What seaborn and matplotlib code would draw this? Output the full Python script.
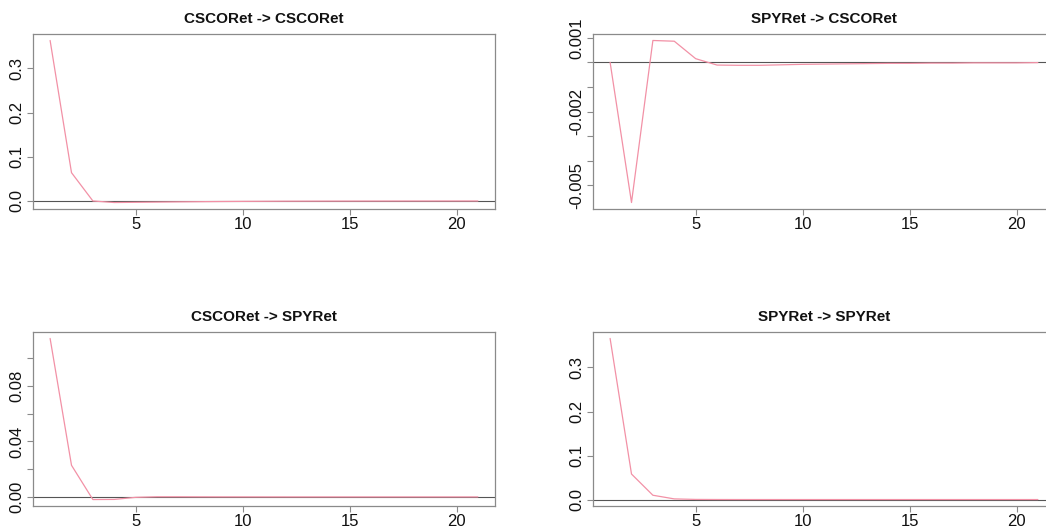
import numpy as np
import pandas as pd
import matplotlib
matplotlib.use("Agg")
import matplotlib.pyplot as plt
import seaborn as sns

# ---- data ----
horizon = list(range(1, 22))

titles = ["CSCORet -> CSCORet", "SPYRet -> CSCORet",
          "CSCORet -> SPYRet", "SPYRet -> SPYRet"]

csco_csco = [0.363, 0.064, 0.0, -0.0035, -0.003, -0.0025, -0.002, -0.0016,
             -0.0012, -0.0009, -0.0007, -0.0005, -0.0004, -0.0003, -0.00025,
             -0.0002, -0.00015, -0.0001, -0.00008, -0.00006, -0.00005]
spy_csco = [0.0, -0.0057, 0.00089, 0.00086, 0.00015, -0.00011, -0.00012,
            -0.00012, -0.00010, -0.00008, -0.00007, -0.00006, -0.00005,
            -0.00004, -0.00004, -0.00003, -0.00003, -0.00002, -0.00002,
            -0.00002, -0.00001]
csco_spy = [0.1142, 0.0228, -0.0019, -0.0018, -0.0003, 0.0001, 0.0001,
            0.00005, 0.00003, 0.00002, 0.00001, 0.0, 0.0, 0.0, 0.0, 0.0,
            0.0, 0.0, 0.0, 0.0, 0.0]
spy_spy = [0.366, 0.058, 0.0098, 0.0015, 0.0003, 0.0001, 0.00003, 0.00001,
           0.0, 0.0, 0.0, 0.0, 0.0, 0.0, 0.0, 0.0, 0.0, 0.0, 0.0, 0.0, 0.0]

series = [csco_csco, spy_csco, csco_spy, spy_spy]

x_ticks = [5, 10, 15, 20]
y_ticks = [
    [0.0, 0.1, 0.2, 0.3],
    [0.001, 0.0, -0.001, -0.002, -0.003, -0.004, -0.005],
    [0.00, 0.02, 0.04, 0.06, 0.08, 0.10],
    [0.0, 0.1, 0.2, 0.3],
]
y_labels = [
    ["0.0", "0.1", "0.2", "0.3"],
    ["0.001", "", "", "-0.002", "", "", "-0.005"],
    ["0.00", "", "0.04", "", "0.08", ""],
    ["0.0", "0.1", "0.2", "0.3"],
]

# ---- style ----
sns.set_style("white")
plt.rcParams["font.family"] = ["Liberation Sans", "DejaVu Sans"]

W, H = 1046, 529
fig = plt.figure(figsize=(W / 100, H / 100), dpi=100)

# panel boxes in pixels: (left, top, right, bottom)
boxes = [
    (33, 34, 495, 209),
    (593, 34, 1055, 209),
    (33, 332, 495, 506),
    (593, 332, 1055, 506),
]

line_color = "#F291A6"
box_color = "#8a8a8a"

for i, (l, t, r, b) in enumerate(boxes):
    ax = fig.add_axes([l / W, 1 - b / H, (r - l) / W, (b - t) / H])
    df = pd.DataFrame({"h": horizon, "v": series[i]})
    sns.lineplot(data=df, x="h", y="v", ax=ax, color=line_color,
                 linewidth=0.9, zorder=3)
    ax.axhline(0, color="#555555", linewidth=0.8, zorder=2)
    ax.margins(x=0.04, y=0.04)
    ax.set_xticks(x_ticks)
    ax.set_xticklabels([str(v) for v in x_ticks])
    ax.set_yticks(y_ticks[i])
    ax.set_yticklabels(y_labels[i])
    ax.set_xlabel("")
    ax.set_ylabel("")
    ax.set_title(titles[i], fontsize=11, fontweight="bold", pad=8,
                 color="#111111")
    for s in ax.spines.values():
        s.set_color(box_color)
        s.set_linewidth(0.9)
        s.set_visible(True)
    ax.tick_params(axis="both", direction="out", length=4, width=0.8,
                   color=box_color, labelsize=12, labelcolor="#111111",
                   bottom=True, left=True)
    ax.tick_params(axis="x", pad=1.5)
    ax.tick_params(axis="y", pad=2, labelrotation=90)
    for lab in ax.get_yticklabels():
        lab.set_va("center")
    ax.grid(False)

fig.savefig("out.png", dpi=100, facecolor="white")
